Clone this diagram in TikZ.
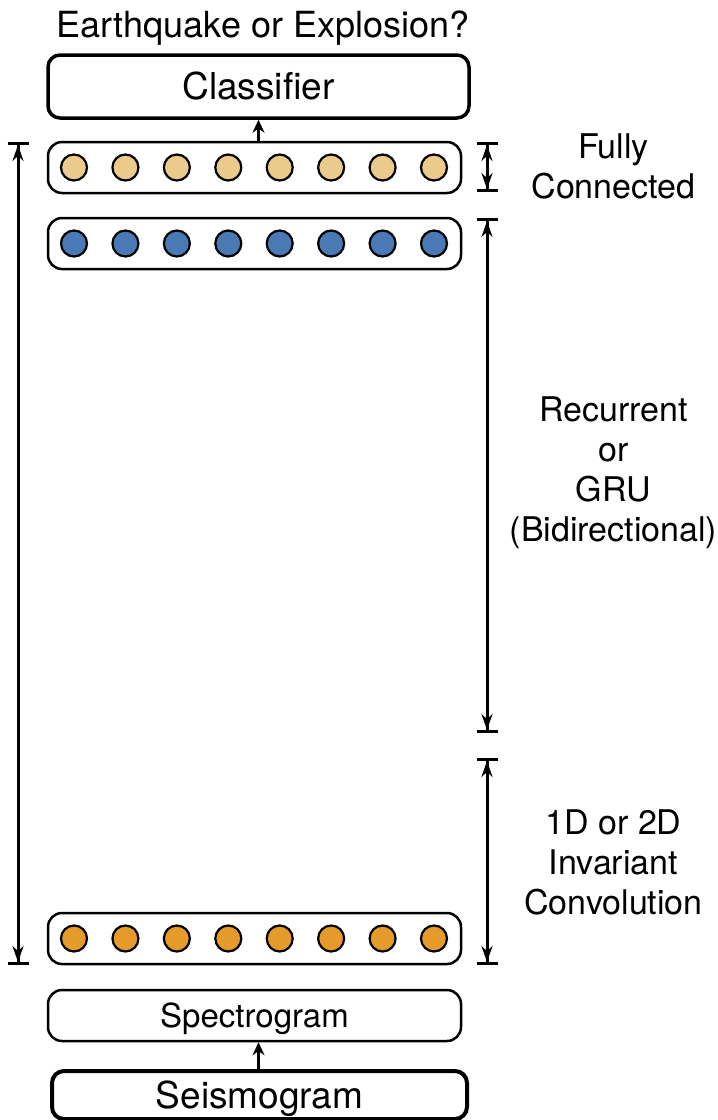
\documentclass[tikz,border=0pt]{standalone}
\usepackage{fontspec}
\setmainfont{TeX Gyre Heros}
\usetikzlibrary{arrows.meta}

\definecolor{fctan}{HTML}{EBCB8B}
\definecolor{rnnblue}{HTML}{4A7AB5}
\definecolor{convorange}{HTML}{E59B2A}

\tikzset{
  layerbox/.style={draw, rounded corners=14pt, line width=2.5pt, minimum width=413pt,
    minimum height=51pt, inner sep=0pt, text depth=0pt},
  unit/.style={circle, draw, line width=2.2pt, minimum size=26pt, inner sep=0pt},
  dimline/.style={line width=3pt,
    {Bar[width=21pt]Stealth[length=16pt,width=11pt]}-{Stealth[length=16pt,width=11pt]Bar[width=21pt]}},
  flow/.style={line width=2.5pt, -{Stealth[length=13pt,width=12pt]}},
  sidelabel/.style={align=center, font=\fontsize{34}{40}\selectfont},
}

\begin{document}
\begin{tikzpicture}[x=1pt,y=-1pt]
  \useasboundingbox (0,0) rectangle (718,1120);

  % title and output
  \node[inner sep=0pt, text height=26pt, text depth=0pt, font=\fontsize{36}{40}\selectfont]
    (question) at (263,24.5) {Earthquake or Explosion?};
  \node[layerbox, line width=3.5pt, rounded corners=12pt, minimum width=421pt, minimum height=63pt,
    text height=26.5pt, font=\fontsize{37}{40}\selectfont] (clf) at (258.5,86.5) {Classifier};

  % layers
  \node[layerbox] (fc) at (254.5,167.5) {};
  \node[layerbox] (rnn) at (254.5,243.5) {};
  \node[layerbox] (conv) at (254.5,938.5) {};
  \foreach \i in {0,...,7} {
    \node[unit, fill=fctan] (fc\i) at ({74+51.43*\i},167.5) {};
    \node[unit, fill=rnnblue] (rnn\i) at ({74+51.43*\i},243.5) {};
    \node[unit, fill=convorange] (conv\i) at ({74+51.43*\i},938.5) {};
  }

  % input
  \node[layerbox, text height=24pt, font=\fontsize{33}{40}\selectfont] (spec) at (254.5,1015.5) {Spectrogram};
  \node[layerbox, line width=4pt, rounded corners=12pt, minimum width=415pt, minimum height=48pt,
    text height=26.5pt, font=\fontsize{37}{40}\selectfont] (seis) at (259.5,1095) {Seismogram};

  \draw[flow] (seis.north -| clf.south) -- (spec.south -| clf.south);
  \draw[flow] (fc.north -| clf.south) -- (clf.south);

  % extents
  \coordinate (alltop) at (18,142);
  \coordinate (allbot) at (18,965);
  \coordinate (fctop) at (487,142);
  \coordinate (fcbot) at (487,192);
  \coordinate (rnntop) at (487,218);
  \coordinate (rnnbot) at (487,733);
  \coordinate (convtop) at (487,758);
  \coordinate (convbot) at (487,965);
  \draw[dimline] (alltop) -- (allbot);
  \draw[dimline] (fctop) -- (fcbot);
  \draw[dimline] (rnntop) -- (rnnbot);
  \draw[dimline] (convtop) -- (convbot);

  \node[sidelabel] (fclbl) at (613.5,166.5) {Fully\\Connected};
  \node[sidelabel] (rnnlbl) at (613.5,473) {Recurrent\\or\\GRU\\(Bidirectional)};
  \node[sidelabel] (convlbl) at (613.5,862) {1D or 2D\\Invariant\\Convolution};
\end{tikzpicture}
\end{document}
